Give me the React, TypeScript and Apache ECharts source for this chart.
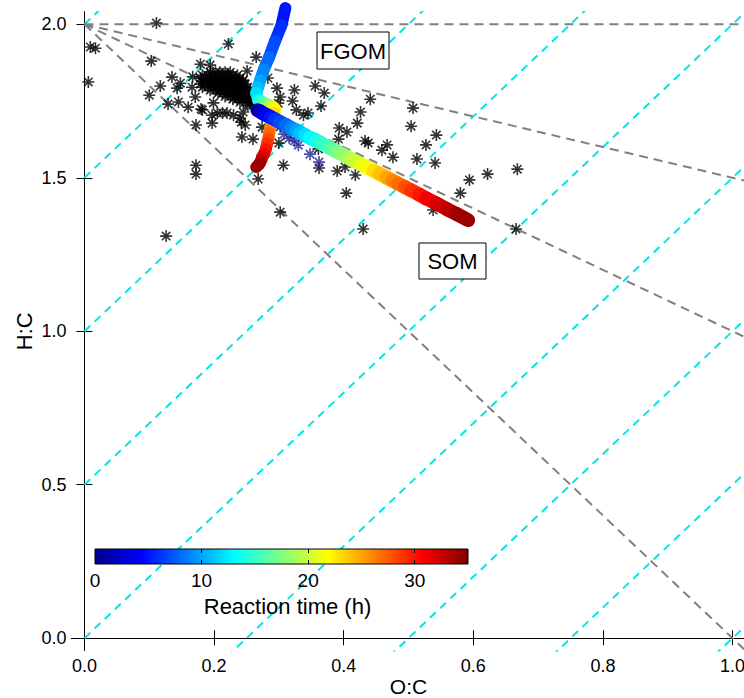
import React, { useEffect, useRef } from 'react';
import * as echarts from 'echarts';

// ---- axis ticks ----
const xTicks = [0, 0.2, 0.4, 0.6, 0.8, 1.0];
const yTicks = [0, 0.5, 1.0, 1.5, 2.0];
const colorbarLabels = [0, 10, 20, 30];
const colorbarInnerTicks = [10, 20, 30];

// jet colormap stops (evenly spaced)
const jetColors = ['#00008F', '#0000FF', '#0080FF', '#00FFFF', '#80FF80', '#FFFF00', '#FF8000', '#FF0000', '#800000'];

// ---- reference lines ----
// carbon oxidation state lines: H:C = 2*O:C + c
const osSlope = 2;
const osIntercepts = [2, 1.5, 1, 0.5, 0, -0.5, -1, -1.5, -2];
// Van Krevelen functionalisation lines from (0, 2)
const vkOrigin: [number, number] = [0, 2];
const vkSlopes = [0, -0.5, -1, -2];

// ---- measured compositions (O:C, H:C) ----
const scatterPoints: [number, number][] = [
  [0.111, 2.004], [0.009, 1.926], [0.017, 1.922], [0.006, 1.812], [0.222, 1.936], [0.103, 1.880],
  [0.265, 1.893], [0.179, 1.870], [0.194, 1.867], [0.135, 1.828], [0.117, 1.799], [0.100, 1.769],
  [0.129, 1.740], [0.145, 1.747], [0.160, 1.730], [0.143, 1.792], [0.148, 1.808], [0.166, 1.795],
  [0.171, 1.763], [0.172, 1.672], [0.197, 1.704], [0.205, 1.711], [0.197, 1.678], [0.182, 1.721],
  [0.220, 1.711], [0.230, 1.704], [0.245, 1.714], [0.242, 1.681], [0.248, 1.672], [0.243, 1.633],
  [0.260, 1.626], [0.172, 1.541], [0.172, 1.512], [0.268, 1.496], [0.307, 1.541], [0.251, 1.848],
  [0.245, 1.818], [0.283, 1.825], [0.297, 1.792], [0.302, 1.763], [0.299, 1.743], [0.324, 1.786],
  [0.321, 1.750], [0.327, 1.721], [0.338, 1.704], [0.345, 1.711], [0.356, 1.799], [0.370, 1.776],
  [0.365, 1.734], [0.361, 1.594], [0.362, 1.532], [0.300, 1.613], [0.302, 1.666], [0.393, 1.662],
  [0.405, 1.649], [0.392, 1.626], [0.441, 1.756], [0.507, 1.727], [0.426, 1.714], [0.421, 1.678],
  [0.504, 1.668], [0.543, 1.639], [0.433, 1.620], [0.438, 1.613], [0.467, 1.607], [0.459, 1.590],
  [0.476, 1.567], [0.527, 1.607], [0.513, 1.561], [0.541, 1.548], [0.390, 1.522], [0.402, 1.535],
  [0.418, 1.509], [0.404, 1.450], [0.430, 1.333], [0.538, 1.395], [0.594, 1.493], [0.580, 1.450],
  [0.622, 1.512], [0.668, 1.528], [0.666, 1.333], [0.126, 1.310], [0.302, 1.388], [0.274, 1.665],
  [0.240, 1.694], [0.199, 1.744], [0.180, 1.724], [0.213, 1.711], [0.167, 1.829],
];

// dense cluster of measurements
const clusterPoints: [number, number][] = [
  [0.194, 1.844], [0.202, 1.844], [0.209, 1.844], [0.217, 1.844], [0.225, 1.844],
  [0.182, 1.834], [0.190, 1.834], [0.198, 1.834], [0.206, 1.834], [0.213, 1.834], [0.221, 1.834], [0.229, 1.834], [0.236, 1.834],
  [0.179, 1.824], [0.186, 1.824], [0.194, 1.824], [0.202, 1.824], [0.209, 1.824], [0.217, 1.824], [0.225, 1.824], [0.233, 1.824], [0.240, 1.824],
  [0.182, 1.814], [0.190, 1.814], [0.198, 1.814], [0.206, 1.814], [0.213, 1.814], [0.221, 1.814], [0.229, 1.814], [0.236, 1.814], [0.244, 1.814],
  [0.179, 1.805], [0.186, 1.805], [0.194, 1.805], [0.202, 1.805], [0.209, 1.805], [0.217, 1.805], [0.225, 1.805], [0.233, 1.805], [0.240, 1.805], [0.248, 1.805],
  [0.182, 1.795], [0.190, 1.795], [0.198, 1.795], [0.206, 1.795], [0.213, 1.795], [0.221, 1.795], [0.229, 1.795], [0.236, 1.795], [0.244, 1.795], [0.252, 1.795],
  [0.194, 1.785], [0.202, 1.785], [0.209, 1.785], [0.217, 1.785], [0.225, 1.785], [0.233, 1.785], [0.240, 1.785], [0.248, 1.785], [0.256, 1.785],
  [0.206, 1.775], [0.213, 1.775], [0.221, 1.775], [0.229, 1.775], [0.236, 1.775], [0.244, 1.775], [0.252, 1.775], [0.260, 1.775],
  [0.217, 1.765], [0.225, 1.765], [0.233, 1.765], [0.240, 1.765], [0.248, 1.765], [0.256, 1.765], [0.263, 1.765],
  [0.229, 1.756], [0.236, 1.756], [0.244, 1.756], [0.252, 1.756], [0.260, 1.756],
  [0.240, 1.746], [0.248, 1.746], [0.256, 1.746],
  [0.252, 1.736], [0.260, 1.736],
];

// early-time measurements (dark blue)
const earlyPoints: [number, number][] = [
  [0.308, 1.642], [0.316, 1.629], [0.324, 1.620], [0.330, 1.606], [0.348, 1.577], [0.362, 1.551],
];

// ---- model trajectories: [O:C, H:C, reaction time (h)] ----
const trajectoryFGOM: [number, number, number][] = [
  [0.310, 2.053, 5], [0.304, 1.997, 6], [0.294, 1.945, 7], [0.285, 1.893, 8], [0.277, 1.854, 9],
  [0.271, 1.818, 10], [0.268, 1.795, 11], [0.265, 1.776, 12], [0.268, 1.753, 13], [0.271, 1.750, 14],
  [0.274, 1.747, 15], [0.277, 1.743, 16], [0.280, 1.740, 17], [0.284, 1.738, 18], [0.287, 1.735, 19],
  [0.290, 1.732, 20], [0.292, 1.729, 21], [0.294, 1.724, 22], [0.293, 1.711, 23], [0.290, 1.695, 24],
  [0.288, 1.678, 25], [0.287, 1.662, 26], [0.285, 1.646, 27], [0.284, 1.629, 28], [0.282, 1.613, 29],
  [0.280, 1.594, 30], [0.277, 1.577, 31], [0.274, 1.567, 32], [0.273, 1.558, 33], [0.270, 1.545, 34],
  [0.265, 1.535, 35],
];

const trajectorySOM: [number, number, number][] = [
  [0.267, 1.720, 0], [0.270, 1.717, 1], [0.273, 1.713, 2], [0.277, 1.708, 3], [0.281, 1.704, 4],
  [0.288, 1.697, 5], [0.294, 1.690, 6], [0.302, 1.681, 7], [0.311, 1.672, 8], [0.319, 1.662, 9],
  [0.327, 1.654, 10], [0.333, 1.647, 11], [0.340, 1.639, 12], [0.348, 1.630, 13], [0.358, 1.620, 14],
  [0.367, 1.610, 15], [0.378, 1.598, 16], [0.387, 1.588, 17], [0.396, 1.578, 18], [0.407, 1.566, 19],
  [0.416, 1.555, 20], [0.426, 1.545, 21], [0.436, 1.533, 22], [0.446, 1.523, 23], [0.455, 1.513, 24],
  [0.466, 1.501, 25], [0.475, 1.491, 26], [0.484, 1.481, 27], [0.495, 1.469, 28], [0.504, 1.459, 29],
  [0.517, 1.445, 30], [0.527, 1.433, 31], [0.543, 1.416, 32], [0.560, 1.397, 33], [0.575, 1.381, 34],
  [0.592, 1.362, 35],
];

const timeMin = 0;
const timeMax = 35;

const FONT = '"Liberation Sans", Arial, Helvetica, sans-serif';
const ASTERISK = 'path://M5 0L5 10M0 5L10 5M1.5 1.5L8.5 8.5M1.5 8.5L8.5 1.5';

function toSegments(tr: [number, number, number][]) {
  const out: number[][] = [];
  for (let i = 0; i < tr.length; i++) {
    const a = tr[i];
    const b = i < tr.length - 1 ? tr[i + 1] : tr[i];
    out.push([a[0], a[1], a[2], b[0], b[1]]);
  }
  return out;
}

function bandSeries(tr: [number, number, number][], width: number) {
  return {
    type: 'custom',
    xAxisIndex: 0,
    yAxisIndex: 0,
    data: toSegments(tr),
    encode: { x: [0, 3], y: [1, 4] },
    clip: false,
    silent: true,
    z: 4,
    renderItem: (params: any, api: any) => {
      const a = api.coord([api.value(0), api.value(1)]);
      const b = api.coord([api.value(3), api.value(4)]);
      return {
        type: 'line',
        shape: { x1: a[0], y1: a[1], x2: b[0], y2: b[1] },
        style: { stroke: api.visual('color'), lineWidth: width, lineCap: 'round' },
      };
    },
  };
}

export default function App() {
  const ref = useRef<HTMLDivElement>(null);

  useEffect(() => {
    if (!ref.current) return;
    const chart = echarts.init(ref.current, undefined, { renderer: 'svg' });

    const xMax = 1.2;
    const cyanSeries = osIntercepts.map((c) => ({
      type: 'line',
      xAxisIndex: 0,
      yAxisIndex: 0,
      data: [[0, c], [xMax, c + osSlope * xMax]],
      symbol: 'none',
      silent: true,
      clip: true,
      z: 1,
      lineStyle: { color: '#00E5E5', width: 2, type: [8, 6] },
    }));
    const graySeries = vkSlopes.map((s) => ({
      type: 'line',
      xAxisIndex: 0,
      yAxisIndex: 0,
      data: [vkOrigin, [xMax, vkOrigin[1] + s * xMax]],
      symbol: 'none',
      silent: true,
      clip: true,
      z: 1,
      lineStyle: { color: '#808080', width: 2, type: [9, 6] },
    }));

    const starStyle = (color: string, w: number) => ({
      color: 'rgba(0,0,0,0)',
      borderColor: color,
      borderWidth: w,
    });

    const series: any[] = [
      ...cyanSeries,
      ...graySeries,
      {
        type: 'scatter', xAxisIndex: 0, yAxisIndex: 0, data: scatterPoints,
        symbol: ASTERISK, symbolSize: 12, silent: true, z: 2,
        itemStyle: starStyle('#000000', 1.6),
      },
      {
        type: 'scatter', xAxisIndex: 0, yAxisIndex: 0, data: clusterPoints,
        symbol: ASTERISK, symbolSize: 12, silent: true, z: 2,
        itemStyle: starStyle('#000000', 1.6),
      },
      {
        type: 'scatter', xAxisIndex: 0, yAxisIndex: 0, data: earlyPoints,
        symbol: ASTERISK, symbolSize: 12, silent: true, z: 3,
        itemStyle: starStyle('#22229A', 1.7),
      },
    ];
    const bandAIndex = series.length;
    series.push(bandSeries(trajectoryFGOM, 12));
    const bandBIndex = series.length;
    series.push(bandSeries(trajectorySOM, 14));

    const gradient = new echarts.graphic.LinearGradient(
      0, 0, 1, 0,
      jetColors.map((c, i) => ({ offset: i / (jetColors.length - 1), color: c }))
    );

    const baseAxisLine = { show: true, lineStyle: { color: '#000', width: 1 } };
    const labelStyle = { color: '#000', fontSize: 18, fontFamily: FONT };

    const option: any = {
      animation: false,
      backgroundColor: '#ffffff',
      textStyle: { fontFamily: FONT },
      grid: [
        { left: 71.5, top: 12, width: 674, height: 638.5, outerBoundsMode: 'none', containLabel: false },
        { left: 95, top: 549, width: 373, height: 15, outerBoundsMode: 'none', containLabel: false },
      ],
      visualMap: {
        type: 'continuous',
        show: false,
        min: timeMin,
        max: timeMax,
        dimension: 2,
        seriesIndex: [bandAIndex, bandBIndex],
        inRange: { color: jetColors },
      },
      xAxis: [
        {
          type: 'value', gridIndex: 0, position: 'bottom', min: -0.02, max: 1.02,
          axisLine: baseAxisLine,
          axisTick: { show: true, inside: true, length: 8, customValues: xTicks, lineStyle: { color: '#000' } },
          axisLabel: { show: true, customValues: xTicks, formatter: (v: number) => v.toFixed(1), margin: 6, ...labelStyle },
          splitLine: { show: false },
          name: 'O:C', nameLocation: 'middle', nameGap: 25, nameMoveOverlap: false,
          nameTextStyle: { color: '#000', fontSize: 21, fontFamily: FONT, lineHeight: 21 },
        },
        {
          type: 'value', gridIndex: 0, position: 'top', min: -0.02, max: 1.02,
          axisLine: baseAxisLine,
          axisTick: { show: true, inside: true, length: 7, customValues: xTicks, lineStyle: { color: '#000' } },
          axisLabel: { show: false },
          splitLine: { show: false },
        },
        {
          type: 'value', gridIndex: 1, position: 'bottom', min: timeMin, max: timeMax, z: 200,
          axisLine: { show: false },
          axisTick: { show: true, inside: true, length: 4, customValues: colorbarInnerTicks, lineStyle: { color: '#000' } },
          axisLabel: { show: true, customValues: colorbarLabels, margin: 7, color: '#000', fontSize: 19, fontFamily: FONT },
          splitLine: { show: false },
          name: 'Reaction time (h)', nameLocation: 'middle', nameGap: 31, nameMoveOverlap: false,
          nameTextStyle: { color: '#000', fontSize: 22, fontFamily: FONT, padding: [0, 0, 0, 12] },
        },
        {
          type: 'value', gridIndex: 1, position: 'top', min: timeMin, max: timeMax, z: 200,
          axisLine: { show: false },
          axisTick: { show: true, inside: true, length: 4, customValues: colorbarInnerTicks, lineStyle: { color: '#000' } },
          axisLabel: { show: false },
          splitLine: { show: false },
        },
      ],
      yAxis: [
        {
          type: 'value', gridIndex: 0, position: 'left', min: -0.04, max: 2.04,
          axisLine: baseAxisLine,
          axisTick: { show: true, inside: true, length: 8, customValues: yTicks, lineStyle: { color: '#000' } },
          axisLabel: { show: true, customValues: yTicks, formatter: (v: number) => v.toFixed(1), margin: 5, ...labelStyle },
          splitLine: { show: false },
          name: 'H:C', nameLocation: 'middle', nameGap: 36, nameMoveOverlap: false,
          nameTextStyle: { color: '#000', fontSize: 22, fontFamily: FONT },
        },
        {
          type: 'value', gridIndex: 0, position: 'right', min: -0.04, max: 2.04,
          axisLine: baseAxisLine,
          axisTick: { show: true, inside: true, length: 8, customValues: yTicks, lineStyle: { color: '#000' } },
          axisLabel: { show: false },
          splitLine: { show: false },
        },
        {
          type: 'value', gridIndex: 1, min: 0, max: 1, show: false,
        },
      ],
      graphic: [
        {
          type: 'rect', z: 100, silent: true,
          shape: { x: 95, y: 549, width: 373, height: 15 },
          style: { fill: gradient, stroke: '#000', lineWidth: 1 },
        },
        {
          type: 'rect', z: 100, silent: true,
          shape: { x: 317, y: 32, width: 72, height: 37 },
          style: { fill: '#fff', stroke: '#000', lineWidth: 1 },
        },
        {
          type: 'text', z: 101, silent: true, x: 353, y: 51,
          style: {
            text: 'FGOM', fill: '#000', fontSize: 22, fontFamily: FONT,
            align: 'center', verticalAlign: 'middle', textAlign: 'center', textVerticalAlign: 'middle',
          },
        },
        {
          type: 'rect', z: 100, silent: true,
          shape: { x: 419, y: 243, width: 67, height: 36 },
          style: { fill: '#fff', stroke: '#000', lineWidth: 1 },
        },
        {
          type: 'text', z: 101, silent: true, x: 452.5, y: 261.5,
          style: {
            text: 'SOM', fill: '#000', fontSize: 22, fontFamily: FONT,
            align: 'center', verticalAlign: 'middle', textAlign: 'center', textVerticalAlign: 'middle',
          },
        },
      ],
      series,
    };

    chart.setOption(option);
    return () => chart.dispose();
  }, []);

  return (
    <div
      ref={ref}
      style={{ position: 'absolute', left: 0, top: 0, width: 744, height: 698, background: '#fff' }}
    />
  );
}
